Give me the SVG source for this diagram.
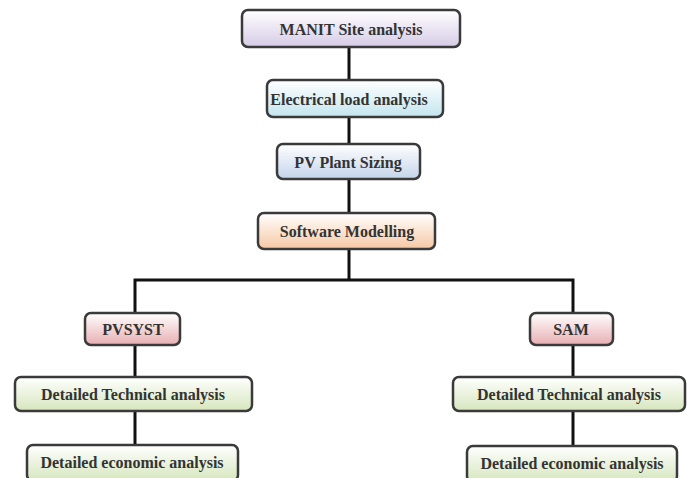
<svg xmlns="http://www.w3.org/2000/svg" width="687" height="478" viewBox="0 0 687 478">
<style>
.box{stroke:#3a3a3a;stroke-width:2.5}
.lbl{font-family:'Liberation Serif','DejaVu Serif',serif;font-weight:bold;font-size:16px;fill:#333;text-anchor:middle}
.con{stroke:#111;stroke-width:3;fill:none}
</style>
<defs>
<linearGradient id="gPurple" x1="0" y1="0" x2="0" y2="1"><stop offset="0" stop-color="#ffffff"/><stop offset="1" stop-color="#d6cbe6"/></linearGradient>
<linearGradient id="gCyan" x1="0" y1="0" x2="0" y2="1"><stop offset="0" stop-color="#ffffff"/><stop offset="1" stop-color="#c3e5ee"/></linearGradient>
<linearGradient id="gBlue" x1="0" y1="0" x2="0" y2="1"><stop offset="0" stop-color="#ffffff"/><stop offset="1" stop-color="#c4d4ea"/></linearGradient>
<linearGradient id="gOrange" x1="0" y1="0" x2="0" y2="1"><stop offset="0" stop-color="#ffffff"/><stop offset="1" stop-color="#f6c8a4"/></linearGradient>
<linearGradient id="gRed" x1="0" y1="0" x2="0" y2="1"><stop offset="0" stop-color="#ffffff"/><stop offset="1" stop-color="#e8aeb2"/></linearGradient>
<linearGradient id="gGreen" x1="0" y1="0" x2="0" y2="1"><stop offset="0" stop-color="#ffffff"/><stop offset="1" stop-color="#d6e6bd"/></linearGradient>
</defs>
<rect width="687" height="478" fill="#ffffff"/>
<g id="connectors">
<line class="con" x1="349" y1="47" x2="349" y2="280"/>
<polyline class="con" points="135,313 135,280 573,280 573,313"/>
<line class="con" x1="135" y1="345" x2="135" y2="446"/>
<line class="con" x1="573" y1="345" x2="573" y2="446"/>
</g>
<g id="manit"><rect class="box" x="242" y="10" width="218" height="37" rx="6" fill="url(#gPurple)"/><text class="lbl" x="351" y="34.5">MANIT Site analysis</text></g>
<g id="electrical"><rect class="box" x="267" y="80" width="176" height="37" rx="6" fill="url(#gCyan)"/><text class="lbl" x="349" y="104.5">Electrical load analysis</text></g>
<g id="pvsizing"><rect class="box" x="277" y="144" width="143" height="35" rx="6" fill="url(#gBlue)"/><text class="lbl" x="348" y="167.5">PV Plant Sizing</text></g>
<g id="software"><rect class="box" x="258" y="213" width="177" height="36" rx="6" fill="url(#gOrange)"/><text class="lbl" x="347" y="236.5">Software Modelling</text></g>
<g id="pvsyst"><rect class="box" x="85" y="313" width="95" height="32" rx="6" fill="url(#gRed)"/><text class="lbl" x="133" y="334.5">PVSYST</text></g>
<g id="sam"><rect class="box" x="530" y="313" width="83" height="32" rx="6" fill="url(#gRed)"/><text class="lbl" x="571" y="334.5">SAM</text></g>
<g id="tech-left"><rect class="box" x="15" y="377" width="237" height="34" rx="6" fill="url(#gGreen)"/><text class="lbl" x="133" y="399.5">Detailed Technical analysis</text></g>
<g id="tech-right"><rect class="box" x="453" y="377" width="232" height="34" rx="6" fill="url(#gGreen)"/><text class="lbl" x="569" y="399.5">Detailed Technical analysis</text></g>
<g id="econ-left"><rect class="box" x="27" y="445" width="211" height="36" rx="6" fill="url(#gGreen)"/><text class="lbl" x="132" y="467.5">Detailed economic analysis</text></g>
<g id="econ-right"><rect class="box" x="467" y="446" width="210" height="36" rx="6" fill="url(#gGreen)"/><text class="lbl" x="572" y="468.5">Detailed economic analysis</text></g>
</svg>
